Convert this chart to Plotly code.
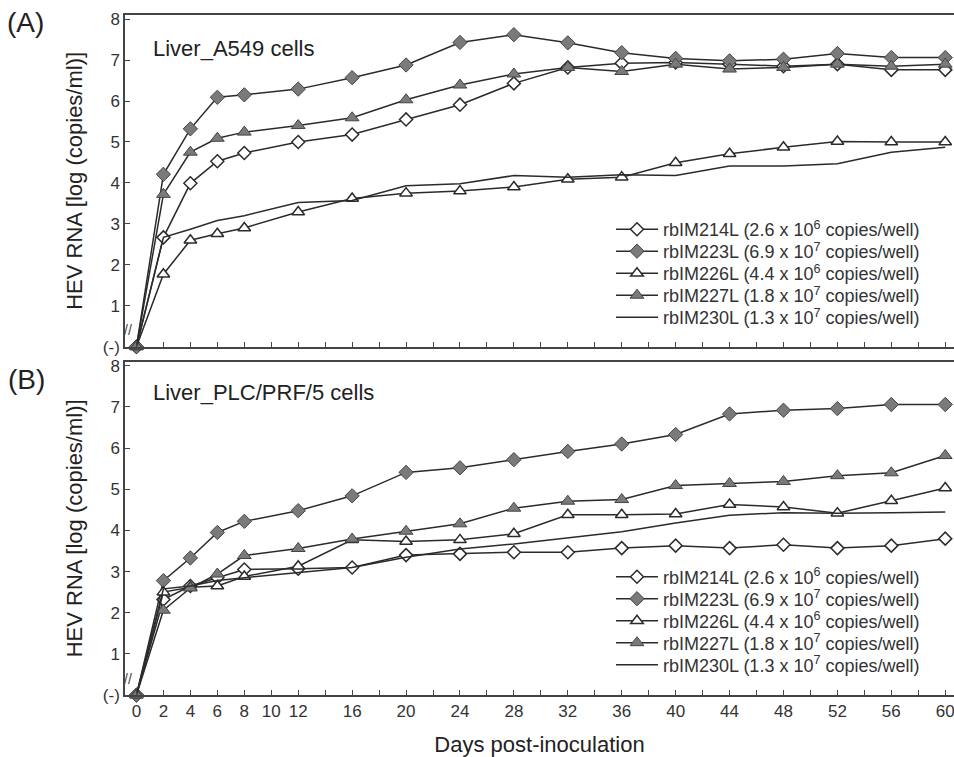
import plotly.graph_objects as go

# Sampling days (days post-inoculation)
days = [0, 2, 4, 6, 8, 12, 16, 20, 24, 28, 32, 36, 40, 44, 48, 52, 56, 60]

# Panel A: Liver_A549 cells, HEV RNA [log copies/ml]
a549_214 = [0, 2.67, 3.99, 4.53, 4.73, 5.00, 5.18, 5.55, 5.91, 6.43, 6.82, 6.92, 6.94, 6.90, 6.85, 6.90, 6.76, 6.76]
a549_223 = [0, 4.21, 5.32, 6.09, 6.15, 6.29, 6.57, 6.88, 7.43, 7.62, 7.42, 7.18, 7.04, 6.98, 7.02, 7.16, 7.06, 7.06]
a549_226 = [0, 1.77, 2.60, 2.76, 2.90, 3.29, 3.62, 3.75, 3.80, 3.90, 4.09, 4.14, 4.49, 4.71, 4.87, 5.01, 5.00, 5.00]
a549_227 = [0, 3.72, 4.75, 5.09, 5.24, 5.40, 5.59, 6.03, 6.39, 6.66, 6.82, 6.72, 6.90, 6.78, 6.82, 6.90, 6.85, 6.90]
a549_230 = [0, 2.67, 2.87, 3.08, 3.20, 3.52, 3.57, 3.93, 3.98, 4.18, 4.14, 4.20, 4.18, 4.41, 4.41, 4.47, 4.75, 4.87]

# Panel B: Liver_PLC/PRF/5 cells
plc_214 = [0, 2.32, 2.65, 2.85, 3.05, 3.07, 3.10, 3.40, 3.43, 3.47, 3.47, 3.57, 3.63, 3.57, 3.65, 3.57, 3.63, 3.80]
plc_223 = [0, 2.78, 3.33, 3.95, 4.22, 4.48, 4.84, 5.41, 5.52, 5.72, 5.92, 6.10, 6.33, 6.83, 6.92, 6.96, 7.06, 7.06]
plc_226 = [0, 2.50, 2.62, 2.65, 2.88, 3.13, 3.77, 3.73, 3.77, 3.92, 4.38, 4.38, 4.40, 4.63, 4.57, 4.42, 4.72, 5.03]
plc_227 = [0, 2.06, 2.60, 2.94, 3.39, 3.56, 3.79, 3.98, 4.16, 4.54, 4.71, 4.75, 5.09, 5.14, 5.19, 5.33, 5.40, 5.82]
plc_230 = [0, 2.58, 2.65, 2.78, 2.85, 2.98, 3.10, 3.35, 3.55, 3.67, 3.82, 3.97, 4.18, 4.37, 4.43, 4.42, 4.43, 4.45]

series_names = [
    "rbIM214L (2.6 x 10<sup>6</sup> copies/well)",
    "rbIM223L (6.9 x 10<sup>7</sup> copies/well)",
    "rbIM226L (4.4 x 10<sup>6</sup> copies/well)",
    "rbIM227L (1.8 x 10<sup>7</sup> copies/well)",
    "rbIM230L (1.3 x 10<sup>7</sup> copies/well)",
]

x_tick_days = list(range(0, 61, 2))
x_label_days = [0, 2, 4, 6, 8, 10, 12, 16, 20, 24, 28, 32, 36, 40, 44, 48, 52, 56, 60]
x_tick_text = [str(d) if d in x_label_days else "" for d in x_tick_days]
y_tick_vals = [0, 1, 2, 3, 4, 5, 6, 7, 8]
y_tick_text = ["(-)", "1", "2", "3", "4", "5", "6", "7", "8"]

FONT = "Arial, Liberation Sans, sans-serif"
INK = "#2b2b2b"
FILL = "#7a7a7a"

# figure geometry (pixels)
W, H = 954, 757
ML, MR, MT, MB = 125, 0, 15, 62
PW, PH = W - ML - MR, H - MT - MB
A_BOTTOM, B_TOP = 346.7, 361.7


def py(ypix):
    """pixel row -> paper y fraction"""
    return (H - MB - ypix) / PH


def px(xpix):
    """pixel column -> paper x fraction"""
    return (xpix - ML) / PW


styles = [
    dict(mode="lines+markers", marker=dict(symbol="diamond", size=10, color="white", line=dict(color=INK, width=1.5))),
    dict(mode="lines+markers", marker=dict(symbol="diamond", size=11, color=FILL, line=dict(color="#444", width=1))),
    dict(mode="lines+markers", marker=dict(symbol="triangle-up", size=11, color="white", line=dict(color=INK, width=1.5))),
    dict(mode="lines+markers", marker=dict(symbol="triangle-up", size=12, color=FILL, line=dict(color="#444", width=1))),
    dict(mode="lines"),
]

fig = go.Figure()

# one single-entry legend per series so the rows sit tightly like the printed key
legend_rows_a = [229.5, 251.5, 273.5, 295.5, 317.5]
legend_rows_b = [577, 599, 621, 643, 665]
legend_layout = {}
panels = [
    ([a549_214, a549_223, a549_226, a549_227, a549_230], "x", "y", legend_rows_a, 0),
    ([plc_214, plc_223, plc_226, plc_227, plc_230], "x2", "y2", legend_rows_b, 5),
]
for values, xa, ya, rows, offset in panels:
    for i, (name, vals, st, row) in enumerate(zip(series_names, values, styles, rows)):
        k = offset + i + 1
        lg = "legend" if k == 1 else f"legend{k}"
        fig.add_trace(go.Scatter(
            x=days, y=vals, name=name, xaxis=xa, yaxis=ya, legend=lg,
            line=dict(color=INK, width=1.5), cliponaxis=False, **st,
        ))
        legend_layout[lg] = dict(
            xref="paper", yref="paper", x=px(611), xanchor="left",
            y=py(row), yanchor="middle",
            bgcolor="rgba(0,0,0,0)", font=dict(family=FONT, size=18, color="#333"),
            itemwidth=42,
        )

xcommon = dict(
    range=[-0.85, 60.65], tickmode="array", tickvals=x_tick_days, ticktext=x_tick_text,
    ticks="inside", ticklen=5, tickcolor="#444", tickwidth=1, tickangle=0,
    ticklabeloverflow="allow",
    showline=True, linecolor="#444", linewidth=1.5, mirror=True,
    showgrid=False, zeroline=False,
    tickfont=dict(family=FONT, size=17, color="#333"),
)
ycommon = dict(
    range=[0, 8.1], tickmode="array", tickvals=y_tick_vals, ticktext=y_tick_text,
    ticks="inside", ticklen=5, tickcolor="#444", tickwidth=1,
    showline=True, linecolor="#444", linewidth=1.5, mirror=False,
    showgrid=False, zeroline=False,
    tickfont=dict(family=FONT, size=17, color="#333"),
    title=dict(text="HEV RNA [log (copies/ml)]", font=dict(family=FONT, size=22, color="#222"), standoff=14),
)

fig.update_layout(
    width=W, height=H,
    margin=dict(l=ML, r=MR, t=MT, b=MB, autoexpand=False),
    paper_bgcolor="white", plot_bgcolor="white",
    xaxis=dict(**xcommon, anchor="y", showticklabels=False),
    yaxis=dict(**ycommon, domain=[py(A_BOTTOM), 1.0], anchor="x"),
    xaxis2=dict(**xcommon, anchor="y2", matches="x",
                title=dict(text="Days post-inoculation", font=dict(family=FONT, size=22, color="#222"), standoff=25)),
    yaxis2=dict(**ycommon, domain=[0.0, py(B_TOP)], anchor="x2"),
    showlegend=True,
    **legend_layout,
)

for text, x, y in (("(A)", 25, 23), ("(B)", 26, 379)):
    fig.add_annotation(text=text, xref="paper", yref="paper", x=px(x), y=py(y),
                       xanchor="center", yanchor="middle", showarrow=False,
                       font=dict(family=FONT, size=28, color="#222"))

for text, y in (("Liver_A549 cells", 48), ("Liver_PLC/PRF/5 cells", 392)):
    fig.add_annotation(text=text, xref="paper", yref="paper", x=px(151), y=py(y),
                       xanchor="left", yanchor="middle", showarrow=False,
                       font=dict(family=FONT, size=22, color="#222"))

# axis-break marks near the bottom of each value axis
for xr, yr in (("x domain", "y"), ("x2 domain", "y2")):
    fig.add_annotation(text="//", xref=xr, yref=yr, x=-0.004, y=0.4, showarrow=False,
                       font=dict(family=FONT, size=14, color="#444"))

fig.write_html("out.html")
